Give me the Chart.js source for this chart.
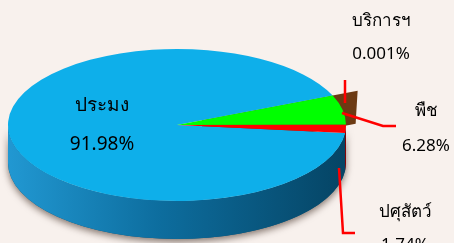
<!DOCTYPE html>
<html>
<head>
<meta charset="utf-8">
<script src="https://cdn.jsdelivr.net/npm/chart.js@4.4.1/dist/chart.umd.min.js"></script>
<style>
  html, body { margin: 0; padding: 0; background: #f8f1ed; }
  #pie { display: block; }
</style>
</head>
<body>
<canvas id="pie" width="454" height="243"></canvas>
<script>
// values
const sectors = ['ประมง', 'บริการฯ', 'พืช', 'ปศุสัตว์'];
const shares = [91.98, 0.001, 6.28, 1.74];
const topColors = ['#0eafea', '#6c3a13', '#00ff00', '#ff0000'];
const sideColors = ['#0d6d9e', '#6c3a13', '#009a00', '#8c0000'];

// where the squashed pie sits on the page
const box = { cx: 177, cy: 125, rx: 169, ry: 76, depth: 38 };

// label spots: name / percent centres and font size
const labelSpots = [
  { x: 102, ny: 106, py: 145, size: 19 },
  { x: 381, ny: 21, py: 54, size: 17 },
  { x: 426, ny: 111, py: 146, size: 17 },
  { x: 405, ny: 212, py: 245, size: 17 }
];
const leaders = [
  null,
  [[345, 80], [345, 103]],
  [[342, 113], [383, 126], [396, 126]],
  [[339, 168], [343, 233], [355, 233]]
];

function band(ctx, lo, hi) {
  ctx.beginPath();
  ctx.ellipse(box.cx, box.cy, box.rx, box.ry, 0, lo, hi);
  ctx.ellipse(box.cx, box.cy + box.depth, box.rx, box.ry, 0, hi, lo, true);
  ctx.closePath();
}

function rim(a) {
  return [box.cx + box.rx * Math.cos(a), box.cy + box.ry * Math.sin(a)];
}

const pie3d = {
  id: 'pie3d',
  beforeDatasetsDraw(chart) {
    const ctx = chart.ctx;
    const arcs = chart.getDatasetMeta(0).data;
    const TAU = Math.PI * 2;

    ctx.save();
    // soft shadow under the front wall
    ctx.shadowColor = 'rgba(40,20,10,0.55)';
    ctx.shadowBlur = 7;
    ctx.shadowOffsetY = 3;
    ctx.fillStyle = '#0a4f74';
    band(ctx, 0, Math.PI);
    ctx.fill();
    ctx.restore();

    const grad = ctx.createLinearGradient(box.cx - box.rx, 0, box.cx + box.rx, 0);
    grad.addColorStop(0, '#2198d2');
    grad.addColorStop(0.45, '#0d6d9e');
    grad.addColorStop(1, '#054464');

    arcs.forEach((arc, i) => {
      for (let k = -1; k <= 2; k++) {
        const lo = Math.max(arc.startAngle, k * TAU);
        const hi = Math.min(arc.endAngle, k * TAU + Math.PI);
        if (hi - lo > 1e-4) {
          band(ctx, lo, hi);
          ctx.fillStyle = i === 0 ? grad : sideColors[i];
          ctx.fill();
        }
      }
    });

    // the tiny slice is pulled out, only its wall shows past the rim
    const b = arcs[1];
    const p = rim(b.startAngle);
    const f = 0.16;
    const ox = (p[0] - box.cx) * f, oy = (p[1] - box.cy) * f;
    ctx.beginPath();
    ctx.moveTo(box.cx + ox, box.cy + oy);
    ctx.lineTo(p[0] + ox, p[1] + oy);
    ctx.lineTo(p[0] + ox - 2, p[1] + oy + box.depth - 5);
    ctx.lineTo(box.cx + ox, box.cy + oy + box.depth - 5);
    ctx.closePath();
    ctx.fillStyle = sideColors[1];
    ctx.fill();

    // squash the library's round pie into the ellipse
    const a = arcs[0];
    ctx.save();
    ctx.translate(box.cx, box.cy);
    ctx.scale(box.rx / a.outerRadius, box.ry / a.outerRadius);
    ctx.translate(-a.x, -a.y);
  },
  afterDatasetsDraw(chart) {
    const ctx = chart.ctx;
    ctx.restore();

    ctx.save();
    ctx.strokeStyle = '#ff0000';
    ctx.lineWidth = 2.5;
    leaders.forEach(pts => {
      if (!pts) return;
      ctx.beginPath();
      pts.forEach((q, j) => j ? ctx.lineTo(q[0], q[1]) : ctx.moveTo(q[0], q[1]));
      ctx.stroke();
    });

    ctx.fillStyle = '#000';
    ctx.textAlign = 'center';
    ctx.textBaseline = 'middle';
    sectors.forEach((name, i) => {
      const s = labelSpots[i];
      ctx.font = s.size + 'px "Noto Sans", sans-serif';
      ctx.fillText(name, s.x, s.ny);
      ctx.fillText(shares[i] + '%', s.x, s.py);
    });
    ctx.restore();
  }
};

new Chart(document.getElementById('pie'), {
  type: 'pie',
  data: {
    labels: sectors,
    datasets: [{
      data: shares,
      backgroundColor: topColors,
      borderWidth: 0,
      clip: false
    }]
  },
  options: {
    responsive: false,
    animation: false,
    rotation: 96,
    events: [],
    plugins: {
      legend: { display: false },
      tooltip: { enabled: false }
    }
  },
  plugins: [pie3d]
});
</script>
</body>
</html>
